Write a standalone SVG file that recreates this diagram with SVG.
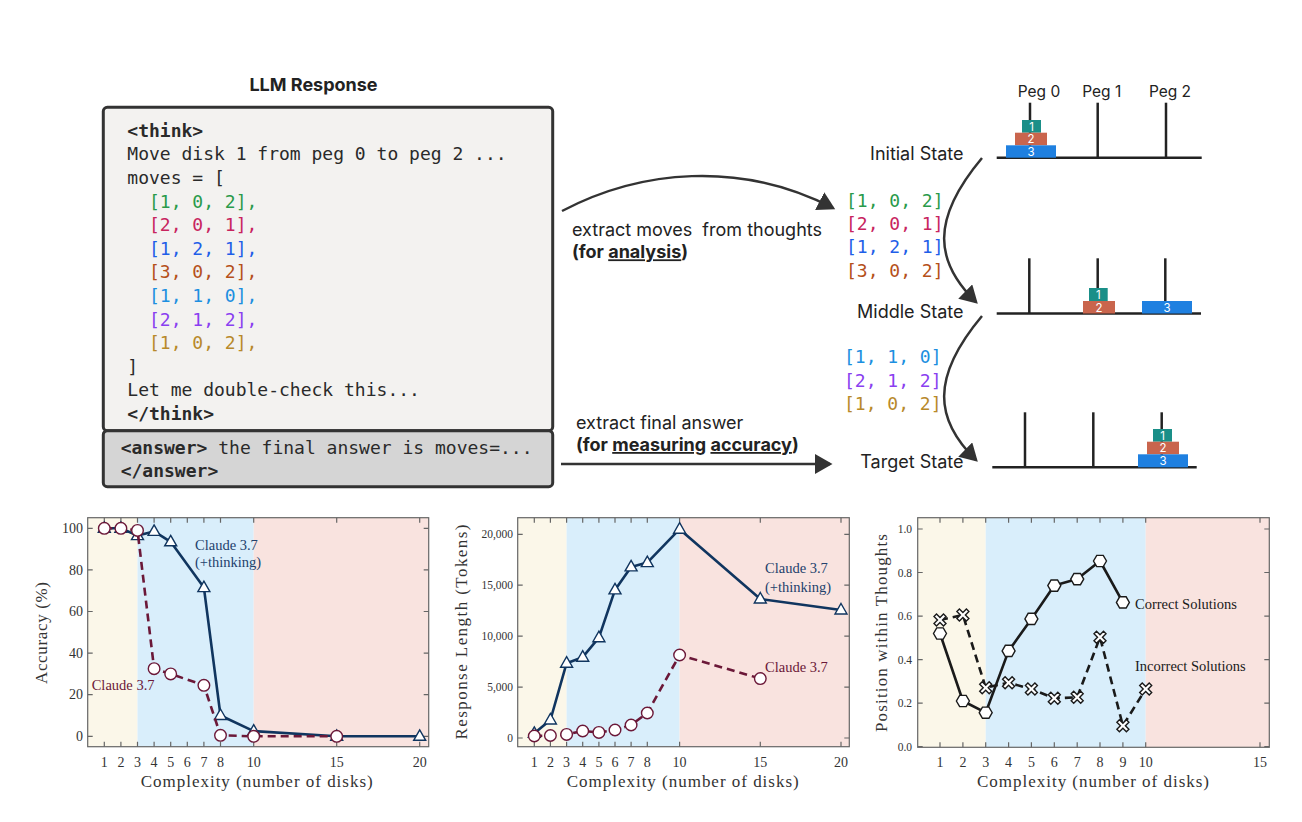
<svg xmlns="http://www.w3.org/2000/svg" xmlns:xlink="http://www.w3.org/1999/xlink" width="1302" height="822" viewBox="0 0 1302 822">
<style>
.sans{font-family:Inter,"Liberation Sans",sans-serif;fill:#222}
.mono{font-family:"DejaVu Sans Mono","Liberation Mono",monospace;font-size:18px;fill:#2a2a2a}
.b{font-weight:bold}
.serif{font-family:"Liberation Serif","DejaVu Serif",serif;fill:#333}
.tick{font-size:14px;text-anchor:middle}
.ytick{font-size:14px;text-anchor:end}
.ytick2{font-size:11.5px;text-anchor:end}
.axl{font-size:17px;text-anchor:middle}
.frame{fill:none;stroke:#666;stroke-width:1.2}
.tk{stroke:#666;stroke-width:1.2}
.yel{fill:#fbf7e9}
.blu{fill:#d9eefb}
.pnk{fill:#f9e3df}
.navy{fill:none;stroke:#10355f;stroke-width:2.6;stroke-linejoin:round}
.maroon{fill:none;stroke:#6b1838;stroke-width:2.6;stroke-dasharray:8,5}
.blk{fill:none;stroke:#1a1a1a;stroke-width:2.6;stroke-linejoin:round}
.blkd{fill:none;stroke:#1a1a1a;stroke-width:2.6;stroke-dasharray:8,5}
.mtri{fill:#fff;stroke:#10355f;stroke-width:1.4}
.mcir{fill:#fff;stroke:#6b1838;stroke-width:1.4}
.mhex{fill:#fff;stroke:#1a1a1a;stroke-width:1.4}
.conn{fill:none;stroke:#333;stroke-width:2.5}
.peg{stroke:#222;stroke-width:2.5}
.d1{fill:#1a8f88}
.d2{fill:#c9654d}
.d3{fill:#1f80e0}
.dl{font-family:Inter,"Liberation Sans",sans-serif;font-size:11.5px;fill:#fff;text-anchor:middle}
.st{font-family:Inter,"Liberation Sans",sans-serif;font-size:18px;fill:#222;text-anchor:end}
.c1{fill:#2a9a4a}.c2{fill:#c8245e}.c3{fill:#1f5ee8}.c4{fill:#b5501a}.c5{fill:#1c8fe0}.c6{fill:#8a3ff0}.c7{fill:#b8892a}
</style>
<defs>
<marker id="ah" markerWidth="8" markerHeight="8" refX="6" refY="4" orient="auto" markerUnits="strokeWidth">
<path d="M0,0 L7,4 L0,8 Z" fill="#333"/>
</marker>
<path id="tri" d="M0,-6.5 L6,4 L-6,4 Z"/>
<circle id="cir" r="5.8"/>
<path id="hex" d="M6.5,0 L3.25,5.6 L-3.25,5.6 L-6.5,0 L-3.25,-5.6 L3.25,-5.6 Z"/>
<path id="xm" d="M0,-2.5 L3.5,-6 L6,-3.5 L2.5,0 L6,3.5 L3.5,6 L0,2.5 L-3.5,6 L-6,3.5 L-2.5,0 L-6,-3.5 L-3.5,-6 Z"/>
</defs>
<rect width="1302" height="822" fill="#fff"/>

<!-- LLM response box -->
<g id="llm-response">
<text class="sans b" x="313.5" y="91" font-size="18" text-anchor="middle">LLM Response</text>
<rect x="103.3" y="107.3" width="449.4" height="323.4" rx="4" fill="#f3f2f0" stroke="#333" stroke-width="3"/>
<text class="mono b" x="127.3" y="136.7">&lt;think&gt;</text>
<text class="mono" x="127.3" y="160.3">Move disk 1 from peg 0 to peg 2 ...</text>
<text class="mono" x="127.3" y="184">moves = [</text>
<text class="mono c1" x="149" y="207.6">[1, 0, 2],</text>
<text class="mono c2" x="149" y="231.2">[2, 0, 1],</text>
<text class="mono c3" x="149" y="254.8">[1, 2, 1],</text>
<text class="mono c4" x="149" y="278.4">[3, 0, 2],</text>
<text class="mono c5" x="149" y="302">[1, 1, 0],</text>
<text class="mono c6" x="149" y="325.6">[2, 1, 2],</text>
<text class="mono c7" x="149" y="349.2">[1, 0, 2],</text>
<text class="mono" x="127.3" y="372.8">]</text>
<text class="mono" x="127.3" y="396.4">Let me double-check this...</text>
<text class="mono b" x="127.3" y="420">&lt;/think&gt;</text>
</g>
<g id="answer-box">
<rect x="103.3" y="430.7" width="449.4" height="56" rx="4" fill="#d5d5d5" stroke="#333" stroke-width="3"/>
<text class="mono" x="120.7" y="454"><tspan class="b">&lt;answer&gt;</tspan> the final answer is moves=...</text>
<text class="mono b" x="120.7" y="477.3">&lt;/answer&gt;</text>
</g>

<!-- connectors -->
<g id="connectors">
<path class="conn" d="M562,211 C640,170 740,160 833,208" marker-end="url(#ah)"/>
<path class="conn" d="M561,464 L830,464" marker-end="url(#ah)"/>
<path class="conn" d="M982,158 C930,220 935,262 976,302" marker-end="url(#ah)"/>
<path class="conn" d="M982,316 C930,378 935,420 976,460" marker-end="url(#ah)"/>
</g>

<g id="label-extract-moves">
<text class="sans" x="572" y="236" font-size="18" xml:space="preserve">extract moves  from thoughts</text>
<text class="sans b" x="572" y="258.3" font-size="18">(for <tspan text-decoration="underline">analysis</tspan>)</text>
</g>
<g id="label-extract-answer">
<text class="sans" x="576" y="429.3" font-size="18">extract final answer</text>
<text class="sans b" x="576" y="451" font-size="18">(for <tspan text-decoration="underline">measuring</tspan> <tspan text-decoration="underline">accuracy</tspan>)</text>
</g>

<g id="moves-1">
<text class="mono c1" x="846" y="206.7" font-size="17.5">[1, 0, 2]</text>
<text class="mono c2" x="846" y="230" font-size="17.5">[2, 0, 1]</text>
<text class="mono c3" x="846" y="253.3" font-size="17.5">[1, 2, 1]</text>
<text class="mono c4" x="846" y="276.7" font-size="17.5">[3, 0, 2]</text>
</g>
<g id="moves-2">
<text class="mono c5" x="844" y="363.3" font-size="17.5">[1, 1, 0]</text>
<text class="mono c6" x="844" y="386.7" font-size="17.5">[2, 1, 2]</text>
<text class="mono c7" x="844" y="410" font-size="17.5">[1, 0, 2]</text>
</g>

<!-- Hanoi states -->
<g id="initial-state">
<text class="st" x="963.5" y="160">Initial State</text>
<text class="sans" x="1039" y="97" font-size="15.5" text-anchor="middle">Peg 0</text>
<text class="sans" x="1101.7" y="97" font-size="15.5" text-anchor="middle">Peg 1</text>
<text class="sans" x="1170" y="97" font-size="15.5" text-anchor="middle">Peg 2</text>
<line class="peg" x1="1030" y1="102.7" x2="1030" y2="157.7"/>
<line class="peg" x1="1097.7" y1="102.7" x2="1097.7" y2="157.7"/>
<line class="peg" x1="1166" y1="102.7" x2="1166" y2="157.7"/>
<line class="peg" x1="996.7" y1="157.7" x2="1201.7" y2="157.7"/>
<rect class="d1" x="1022" y="120" width="19" height="12.7"/>
<rect class="d2" x="1015" y="132.7" width="32" height="12.6"/>
<rect class="d3" x="1006" y="145.3" width="50" height="12.4"/>
<text class="dl" x="1031.5" y="130.7">1</text>
<text class="dl" x="1031" y="143.3">2</text>
<text class="dl" x="1031" y="155.8">3</text>
</g>
<g id="middle-state">
<text class="st" x="963.5" y="318.3">Middle State</text>
<line class="peg" x1="1029.3" y1="258.3" x2="1029.3" y2="313.5"/>
<line class="peg" x1="1097.7" y1="258.3" x2="1097.7" y2="313.5"/>
<line class="peg" x1="1165.3" y1="258.3" x2="1165.3" y2="313.5"/>
<line class="peg" x1="996.7" y1="313.5" x2="1201" y2="313.5"/>
<rect class="d1" x="1089" y="288" width="18.7" height="13"/>
<rect class="d2" x="1083" y="301" width="32" height="12.5"/>
<rect class="d3" x="1142" y="301" width="50" height="12.5"/>
<text class="dl" x="1098.3" y="298.9">1</text>
<text class="dl" x="1099" y="311.6">2</text>
<text class="dl" x="1167" y="311.6">3</text>
</g>
<g id="target-state">
<text class="st" x="963.5" y="467.7">Target State</text>
<line class="peg" x1="1025" y1="412.3" x2="1025" y2="467.3"/>
<line class="peg" x1="1093.3" y1="412.3" x2="1093.3" y2="467.3"/>
<line class="peg" x1="1161.7" y1="412.3" x2="1161.7" y2="467.3"/>
<line class="peg" x1="992.3" y1="467.3" x2="1196.7" y2="467.3"/>
<rect class="d1" x="1153" y="429" width="19" height="12.7"/>
<rect class="d2" x="1147" y="441.7" width="32" height="12.6"/>
<rect class="d3" x="1138" y="454.3" width="50" height="13"/>
<text class="dl" x="1162.5" y="439.8">1</text>
<text class="dl" x="1163" y="452.4">2</text>
<text class="dl" x="1163" y="465.2">3</text>
</g>

<!-- Chart 1: Accuracy -->
<g id="chart-accuracy">
<rect class="yel" x="87.7" y="517.7" width="49.8" height="229"/>
<rect class="blu" x="137.5" y="517.7" width="116.2" height="229"/>
<rect class="pnk" x="253.7" y="517.7" width="175" height="229"/>
<g class="tk">
<path d="M104.3,746.7v-5M120.9,746.7v-5M137.5,746.7v-5M154.1,746.7v-5M170.7,746.7v-5M187.3,746.7v-5M203.9,746.7v-5M220.5,746.7v-5M253.7,746.7v-5M336.7,746.7v-5M419.7,746.7v-5"/>
<path d="M104.3,517.7v5M120.9,517.7v5M137.5,517.7v5M154.1,517.7v5M170.7,517.7v5M187.3,517.7v5M203.9,517.7v5M220.5,517.7v5M253.7,517.7v5M336.7,517.7v5M419.7,517.7v5"/>
<path d="M87.7,736.3h5M87.7,694.7h5M87.7,653.1h5M87.7,611.5h5M87.7,569.9h5M87.7,528.3h5"/>
<path d="M428.7,736.3h-5M428.7,694.7h-5M428.7,653.1h-5M428.7,611.5h-5M428.7,569.9h-5M428.7,528.3h-5"/>
</g>
<rect class="frame" x="87.7" y="517.7" width="341" height="229"/>
<g class="serif ytick">
<text x="83" y="741">0</text><text x="83" y="699.4">20</text><text x="83" y="657.8">40</text><text x="83" y="616.2">60</text><text x="83" y="574.6">80</text><text x="83" y="533">100</text>
</g>
<g class="serif tick">
<text x="104.3" y="767">1</text><text x="120.9" y="767">2</text><text x="137.5" y="767">3</text><text x="154.1" y="767">4</text><text x="170.7" y="767">5</text><text x="187.3" y="767">6</text><text x="203.9" y="767">7</text><text x="220.5" y="767">8</text><text x="253.7" y="767">10</text><text x="336.7" y="767">15</text><text x="419.7" y="767">20</text>
</g>
<text class="serif axl" x="256.7" y="787" textLength="232">Complexity (number of disks)</text>
<text class="serif axl" transform="translate(47,633) rotate(-90)" textLength="102">Accuracy (%)</text>
<polyline class="navy" points="104.3,528.3 120.9,528.3 137.5,535.6 154.1,531.4 170.7,541.8 203.9,587.6 220.5,715.5 253.7,731.1 336.7,736.3 419.7,736.3"/>
<g class="mtri">
<use href="#tri" x="104.3" y="528.3"/><use href="#tri" x="120.9" y="528.3"/><use href="#tri" x="137.5" y="535.6"/><use href="#tri" x="154.1" y="531.4"/><use href="#tri" x="170.7" y="541.8"/><use href="#tri" x="203.9" y="587.6"/><use href="#tri" x="220.5" y="715.5"/><use href="#tri" x="253.7" y="731.1"/><use href="#tri" x="336.7" y="736.3"/><use href="#tri" x="419.7" y="736.3"/>
</g>
<polyline class="maroon" points="104.3,528.3 120.9,528.3 137.5,530.4 154.1,668.7 170.7,673.9 203.9,685.3 220.5,735.3 253.7,736.3 336.7,736.3"/>
<g class="mcir">
<use href="#cir" x="104.3" y="528.3"/><use href="#cir" x="120.9" y="528.3"/><use href="#cir" x="137.5" y="530.4"/><use href="#cir" x="154.1" y="668.7"/><use href="#cir" x="170.7" y="673.9"/><use href="#cir" x="203.9" y="685.3"/><use href="#cir" x="220.5" y="735.3"/><use href="#cir" x="253.7" y="736.3"/><use href="#cir" x="336.7" y="736.3"/>
</g>
<text class="serif" x="195" y="550" font-size="14.5" style="fill:#23416c">Claude 3.7</text>
<text class="serif" x="195" y="566.7" font-size="14.5" style="fill:#23416c">(+thinking)</text>
<text class="serif" x="91.7" y="690" font-size="14.5" style="fill:#6b1838">Claude 3.7</text>
</g>

<!-- Chart 2: Response length -->
<g id="chart-length">
<rect class="yel" x="517.7" y="517.7" width="48.9" height="229"/>
<rect class="blu" x="566.6" y="517.7" width="113" height="229"/>
<rect class="pnk" x="679.6" y="517.7" width="169.7" height="229"/>
<g class="tk">
<path d="M534.3,746.7v-5M550.4,746.7v-5M566.6,746.7v-5M582.7,746.7v-5M598.9,746.7v-5M615,746.7v-5M631.1,746.7v-5M647.3,746.7v-5M679.6,746.7v-5M760.3,746.7v-5M841,746.7v-5"/>
<path d="M534.3,517.7v5M550.4,517.7v5M566.6,517.7v5M582.7,517.7v5M598.9,517.7v5M615,517.7v5M631.1,517.7v5M647.3,517.7v5M679.6,517.7v5M760.3,517.7v5M841,517.7v5"/>
<path d="M517.7,738h5M517.7,687.1h5M517.7,636.2h5M517.7,585.2h5M517.7,534.3h5"/>
<path d="M849.3,738h-5M849.3,687.1h-5M849.3,636.2h-5M849.3,585.2h-5M849.3,534.3h-5"/>
</g>
<rect class="frame" x="517.7" y="517.7" width="331.6" height="229"/>
<g class="serif ytick2">
<text x="513" y="742">0</text><text x="513" y="691.1">5,000</text><text x="513" y="640.2">10,000</text><text x="513" y="589.2">15,000</text><text x="513" y="538.3">20,000</text>
</g>
<g class="serif tick">
<text x="534.3" y="767">1</text><text x="550.4" y="767">2</text><text x="566.6" y="767">3</text><text x="582.7" y="767">4</text><text x="598.9" y="767">5</text><text x="615" y="767">6</text><text x="631.1" y="767">7</text><text x="647.3" y="767">8</text><text x="679.6" y="767">10</text><text x="760.3" y="767">15</text><text x="841" y="767">20</text>
</g>
<text class="serif axl" x="682.7" y="787" textLength="232">Complexity (number of disks)</text>
<text class="serif axl" transform="translate(467,632) rotate(-90)" textLength="215">Response Length (Tokens)</text>
<polyline class="navy" points="534.3,733.3 550.4,720 566.6,663.2 582.7,657.2 598.9,637.7 615,589.9 631.1,566.9 647.3,562.6 679.6,529.2 760.3,599 841,610"/>
<g class="mtri">
<use href="#tri" x="534.3" y="733.3"/><use href="#tri" x="550.4" y="720"/><use href="#tri" x="566.6" y="663.2"/><use href="#tri" x="582.7" y="657.2"/><use href="#tri" x="598.9" y="637.7"/><use href="#tri" x="615" y="589.9"/><use href="#tri" x="631.1" y="566.9"/><use href="#tri" x="647.3" y="562.6"/><use href="#tri" x="679.6" y="529.2"/><use href="#tri" x="760.3" y="599"/><use href="#tri" x="841" y="610"/>
</g>
<polyline class="maroon" points="534.3,736 550.4,735.5 566.6,734.4 582.7,731 598.9,732.4 615,730 631.1,725 647.3,713 679.6,655 760.3,678.6"/>
<g class="mcir">
<use href="#cir" x="534.3" y="736"/><use href="#cir" x="550.4" y="735.5"/><use href="#cir" x="566.6" y="734.4"/><use href="#cir" x="582.7" y="731"/><use href="#cir" x="598.9" y="732.4"/><use href="#cir" x="615" y="730"/><use href="#cir" x="631.1" y="725"/><use href="#cir" x="647.3" y="713"/><use href="#cir" x="679.6" y="655"/><use href="#cir" x="760.3" y="678.6"/>
</g>
<text class="serif" x="765" y="573.3" font-size="14.5" style="fill:#23416c">Claude 3.7</text>
<text class="serif" x="765" y="591.7" font-size="14.5" style="fill:#23416c">(+thinking)</text>
<text class="serif" x="765" y="671.7" font-size="14.5" style="fill:#6b1838">Claude 3.7</text>
</g>

<!-- Chart 3: Position within thoughts -->
<g id="chart-position">
<rect class="yel" x="917.7" y="517.7" width="68" height="229.6"/>
<rect class="blu" x="985.7" y="517.7" width="160" height="229.6"/>
<rect class="pnk" x="1145.7" y="517.7" width="123.6" height="229.6"/>
<g class="tk">
<path d="M940,747.3v-5M962.9,747.3v-5M985.7,747.3v-5M1008.6,747.3v-5M1031.4,747.3v-5M1054.3,747.3v-5M1077.2,747.3v-5M1100,747.3v-5M1122.9,747.3v-5M1145.7,747.3v-5M1260,747.3v-5"/>
<path d="M940,517.7v5M962.9,517.7v5M985.7,517.7v5M1008.6,517.7v5M1031.4,517.7v5M1054.3,517.7v5M1077.2,517.7v5M1100,517.7v5M1122.9,517.7v5M1145.7,517.7v5M1260,517.7v5"/>
<path d="M917.7,746.7h5M917.7,703.2h5M917.7,659.6h5M917.7,616.1h5M917.7,572.5h5M917.7,529h5"/>
<path d="M1269.3,746.7h-5M1269.3,703.2h-5M1269.3,659.6h-5M1269.3,616.1h-5M1269.3,572.5h-5M1269.3,529h-5"/>
</g>
<rect class="frame" x="917.7" y="517.7" width="351.6" height="229.6"/>
<g class="serif ytick2">
<text x="912" y="750.7">0.0</text><text x="912" y="707.2">0.2</text><text x="912" y="663.6">0.4</text><text x="912" y="620.1">0.6</text><text x="912" y="576.5">0.8</text><text x="912" y="533">1.0</text>
</g>
<g class="serif tick">
<text x="940" y="767">1</text><text x="962.9" y="767">2</text><text x="985.7" y="767">3</text><text x="1008.6" y="767">4</text><text x="1031.4" y="767">5</text><text x="1054.3" y="767">6</text><text x="1077.2" y="767">7</text><text x="1100" y="767">8</text><text x="1122.9" y="767">9</text><text x="1145.7" y="767">10</text><text x="1260" y="767">15</text>
</g>
<text class="serif axl" x="1093" y="787" textLength="232">Complexity (number of disks)</text>
<text class="serif axl" transform="translate(887,633) rotate(-90)" textLength="198">Position within Thoughts</text>
<polyline class="blk" points="940,633.5 962.9,701 985.7,712.7 1008.6,650.9 1031.4,618.9 1054.3,585.6 1077.2,579.1 1100,561 1122.9,602.4"/>
<polyline class="blkd" points="940,620 962.9,615 985.7,687.7 1008.6,682.7 1031.4,689 1054.3,698.3 1077.2,697.3 1100,637.3 1122.9,725.7 1145.7,689"/>
<g class="mhex">
<use href="#hex" x="940" y="633.5"/><use href="#hex" x="962.9" y="701"/><use href="#hex" x="985.7" y="712.7"/><use href="#hex" x="1008.6" y="650.9"/><use href="#hex" x="1031.4" y="618.9"/><use href="#hex" x="1054.3" y="585.6"/><use href="#hex" x="1077.2" y="579.1"/><use href="#hex" x="1100" y="561"/><use href="#hex" x="1122.9" y="602.4"/>
</g>
<g class="mhex">
<use href="#xm" x="940" y="620"/><use href="#xm" x="962.9" y="615"/><use href="#xm" x="985.7" y="687.7"/><use href="#xm" x="1008.6" y="682.7"/><use href="#xm" x="1031.4" y="689"/><use href="#xm" x="1054.3" y="698.3"/><use href="#xm" x="1077.2" y="697.3"/><use href="#xm" x="1100" y="637.3"/><use href="#xm" x="1122.9" y="725.7"/><use href="#xm" x="1145.7" y="689"/>
</g>
<text class="serif" x="1135" y="608.5" font-size="14.5" style="fill:#1a1a1a">Correct Solutions</text>
<text class="serif" x="1135" y="671" font-size="14.5" style="fill:#1a1a1a">Incorrect Solutions</text>
</g>
</svg>
